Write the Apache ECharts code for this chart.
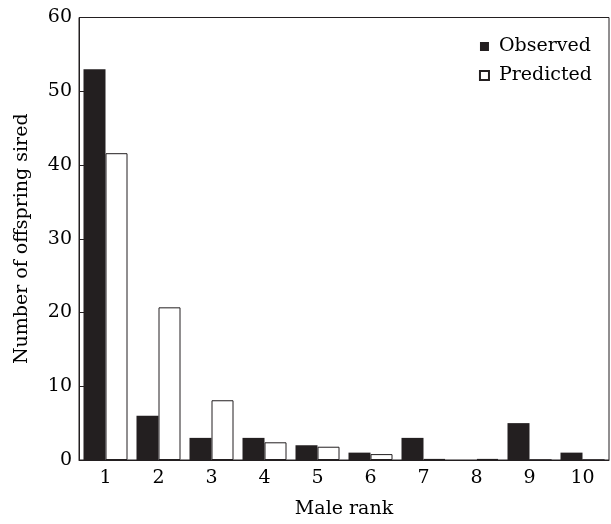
<!DOCTYPE html>
<html>
<head>
<meta charset="utf-8">
<script src="https://cdn.jsdelivr.net/npm/echarts@6/dist/echarts.min.js"></script>
<style>
  html, body { margin: 0; padding: 0; background: #fff; }
  #chart { width: 611px; height: 524px; }
</style>
</head>
<body>
<div id="chart"></div>
<script>
// male rank categories
const ranks = ["1", "2", "3", "4", "5", "6", "7", "8", "9", "10"];
const observed = [53, 6, 3, 3, 2, 1, 3, 0, 5, 1];
const predicted = [41.6, 20.7, 8.1, 2.4, 1.8, 0.8, 0.15, 0.15, 0, 0];
const yTicks = [0, 10, 20, 30, 40, 50, 60];

const ink = "#231f20";
const serif = "DejaVu Serif";

const chart = echarts.init(document.getElementById("chart"));

chart.setOption({
  backgroundColor: "#fff",
  animation: false,
  grid: {
    left: 79,
    top: 17.5,
    width: 530,
    height: 445,
    show: true,
    borderColor: ink,
    borderWidth: 1
  },
  legend: {
    orient: "vertical",
    right: 14,
    top: 32,
    icon: "rect",
    itemWidth: 9,
    itemHeight: 9,
    itemGap: 10,
    textStyle: { fontFamily: serif, fontSize: 19, color: "#000", padding: [0, 0, 0, 5] },
    data: ["Observed", "Predicted"]
  },
  xAxis: {
    type: "category",
    data: ranks,
    name: "Male rank",
    nameLocation: "middle",
    nameGap: 40,
    nameTextStyle: { fontFamily: serif, fontSize: 19, color: "#000" },
    axisLine: { lineStyle: { color: ink, width: 1 } },
    axisTick: { inside: true, length: 6, lineStyle: { color: ink } },
    axisLabel: { fontFamily: serif, fontSize: 19, color: "#000", margin: 9 }
  },
  yAxis: {
    type: "value",
    min: yTicks[0],
    max: yTicks[yTicks.length - 1],
    interval: 10,
    name: "Number of offspring sired",
    nameLocation: "middle",
    nameGap: 47,
    nameTextStyle: { fontFamily: serif, fontSize: 19, color: "#000" },
    axisLine: { show: true, lineStyle: { color: ink, width: 1 } },
    axisTick: { show: true, inside: true, length: 6, lineStyle: { color: ink } },
    axisLabel: { fontFamily: serif, fontSize: 19, color: "#000", margin: 7 },
    splitLine: { show: false }
  },
  series: [
    {
      name: "Observed",
      type: "bar",
      data: observed,
      barWidth: 22,
      barGap: "0%",
      itemStyle: { color: ink }
    },
    {
      name: "Predicted",
      type: "bar",
      data: predicted,
      barWidth: 22,
      itemStyle: { color: "#fff", borderColor: ink, borderWidth: 1 }
    }
  ]
});
</script>
</body>
</html>
